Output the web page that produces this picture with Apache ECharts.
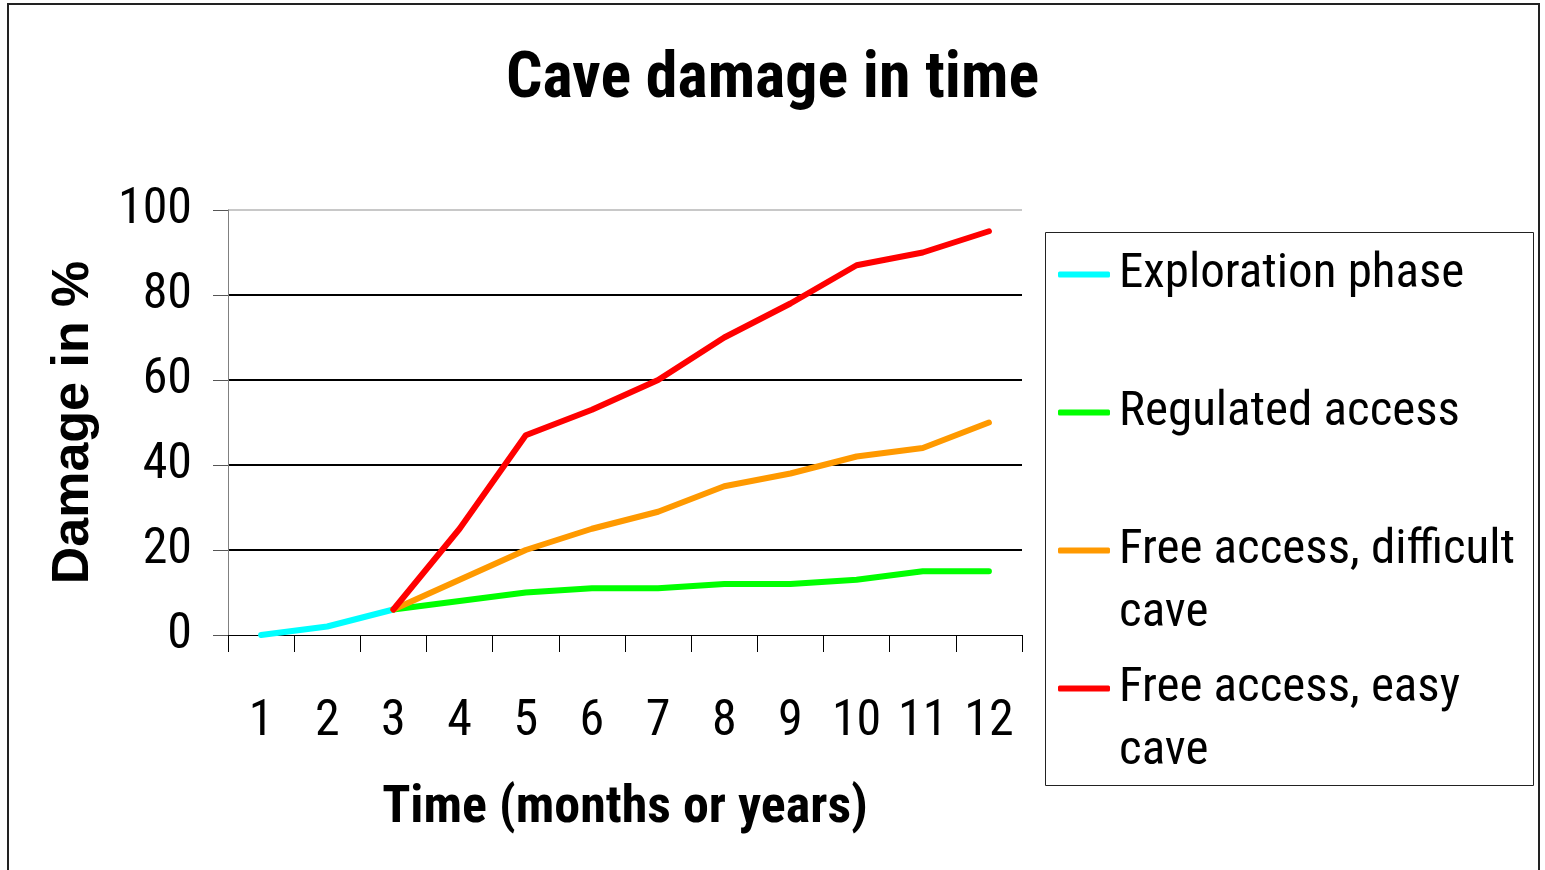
<!DOCTYPE html>
<html>
<head>
<meta charset="utf-8">
<script src="https://cdn.jsdelivr.net/npm/echarts@6/dist/echarts.min.js"></script>
<style>
html,body{margin:0;padding:0;background:#fff;}
#chart{width:1545px;height:870px;}
</style>
</head>
<body>
<div id="chart"></div>
<script>
const categories = ['1','2','3','4','5','6','7','8','9','10','11','12'];
const seriesNames = ['Exploration phase','Regulated access','Free access, difficult cave','Free access, easy cave'];
const exploration = [0, 2, 6, null, null, null, null, null, null, null, null, null];
const regulated   = [null, null, 6, 8, 10, 11, 11, 12, 12, 13, 15, 15];
const difficult   = [null, null, 6, 13, 20, 25, 29, 35, 38, 42, 44, 50];
const easy        = [null, null, 6, 25, 47, 53, 60, 70, 78, 87, 90, 95];
const yTicks = [0, 20, 40, 60, 80, 100];

const NARROW = '"Roboto Condensed","Liberation Sans",Arial,sans-serif';
const SANS = '"Liberation Sans",Arial,sans-serif';
const colors = ['#00FFFF', '#00FF00', '#FF9900', '#FF0000'];
const values = [exploration, regulated, difficult, easy];

const chart = echarts.init(document.getElementById('chart'));

function legendFor(i, top) {
  return {
    show: true,
    orient: 'vertical',
    left: 1058,
    top: top,
    padding: 0,
    selectedMode: false,
    icon: 'roundRect',
    itemWidth: 52,
    itemHeight: 6,
    data: [seriesNames[i]],
    formatter: function (n) {
      // two-line names get a leading empty line so the first line sits level with the icon
      if (n.indexOf(' cave') > 0) {
        return '\n' + n.replace(' cave', '\ncave');
      }
      return n;
    },
    textStyle: {
      fontFamily: NARROW,
      fontSize: 49,
      lineHeight: 63,
      color: '#000',
      padding: [0, 0, 0, 4]
    }
  };
}

const option = {
  animation: false,
  backgroundColor: '#fff',
  title: {
    text: 'Cave damage in time',
    left: 'center',
    top: 44,
    textStyle: {
      fontFamily: NARROW,
      fontWeight: 'bold',
      fontSize: 64,
      color: '#000'
    }
  },
  legend: [
    legendFor(0, 243),
    legendFor(1, 381),
    legendFor(2, 456),
    legendFor(3, 594)
  ],
  grid: { left: 228, top: 210, width: 794, height: 425, containLabel: false },
  xAxis: {
    type: 'category',
    data: categories,
    boundaryGap: true,
    name: 'Time (months or years)',
    nameLocation: 'middle',
    nameGap: 148,
    nameTextStyle: { fontFamily: NARROW, fontWeight: 'bold', fontSize: 52, color: '#000' },
    axisLine: { lineStyle: { color: '#000', width: 1 } },
    axisTick: { show: true, alignWithLabel: false, length: 17, lineStyle: { color: '#000', width: 1 } },
    axisLabel: { interval: 0, margin: 62, fontFamily: NARROW, fontSize: 50, color: '#000' },
    splitLine: { show: false }
  },
  yAxis: {
    type: 'value',
    min: 0,
    max: 100,
    interval: 20,
    name: 'Damage in %',
    nameLocation: 'middle',
    nameGap: 128,
    nameTextStyle: { fontFamily: SANS, fontWeight: 'bold', fontSize: 52, color: '#000' },
    axisLine: { show: true, lineStyle: { color: '#808080', width: 1 } },
    axisTick: { show: true, inside: false, length: 15, lineStyle: { color: '#555', width: 1 } },
    axisLabel: {
      margin: 36, fontFamily: NARROW, fontSize: 50, color: '#000',
      formatter: function (v) { return yTicks.indexOf(v) >= 0 ? String(v) : ''; }
    },
    splitLine: { show: true, lineStyle: { color: ['transparent', '#000', '#000', '#000', '#000', '#c8c8c8'], width: 2 } }
  },
  series: seriesNames.map(function (n, i) {
    return {
      name: n,
      type: 'line',
      data: values[i],
      showSymbol: false,
      symbol: 'none',
      connectNulls: false,
      color: colors[i],
      lineStyle: { color: colors[i], width: 6, cap: 'round', join: 'round' },
      itemStyle: { color: colors[i] },
      z: 2 + i
    };
  }),
  graphic: [
    {
      type: 'rect',
      shape: { x: 8, y: 4, width: 1531, height: 1000 },
      style: { fill: 'none', stroke: '#222', lineWidth: 2 },
      silent: true
    },
    {
      type: 'rect',
      shape: { x: 1045.5, y: 232.5, width: 488, height: 553 },
      style: { fill: 'none', stroke: '#222', lineWidth: 1 },
      silent: true
    }
  ]
};
chart.setOption(option);
</script>
</body>
</html>
